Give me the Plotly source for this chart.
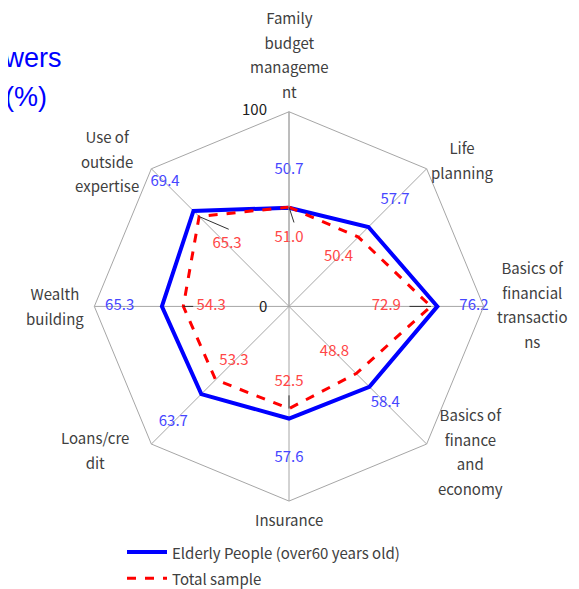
import math
import plotly.graph_objects as go

categories = ["Family budget management", "Life planning", "Basics of financial transactions",
              "Basics of finance and economy", "Insurance", "Loans/credit", "Wealth building",
              "Use of outside expertise"]
tick_lines = [["Family", "budget", "manageme", "nt"], ["Life", "planning"],
              ["Basics of", "financial", "transactio", "ns"], ["Basics of", "finance", "and", "economy"],
              ["Insurance"], ["Loans/cre", "dit"], ["Wealth", "building"], ["Use of", "outside", "expertise"]]
elderly = [50.7, 57.7, 76.2, 58.4, 57.6, 63.7, 65.3, 69.4]
total = [51.0, 50.4, 72.9, 48.8, 52.5, 53.3, 54.3, 65.3]
series_names = ["Elderly People (over60 years old)", "Total sample"]
radial_ticks = [0, 100]

# ---- layout-only placement settings ----
elderly_label_r = [70, 77, 95, 70, 78, 84, 87, 90]
total_label_r = [35, 36, 50, 33, 39, 40, 40, 45]
# leader lines: (category index, label end radius, angle offset in degrees)
leaders = [(0, 43.2, 3.4), (7, 50.3, 7.0), (2, 61.9, 0.0), (6, 49.2, 0.0), (4, 45.7, 0.0)]
# category label box centre offsets from the spoke end (px)
cat_label_shift = [(0, -53), (34, -4), (46, 3), (42, 13), (0, 24), (-55, 11), (-37, 5), (-43, -3)]
radial_label_dy = {0: 4, 100: 2}

FONT = "Noto Sans CJK JP"
OFF = 8  # page body margin
W, H = 579, 589
CX, CY, R = 289, 305, 197  # visual centre / radius in page pixels
PLOT_DY = 5  # plotly draws the polar slightly above its domain centre


def px(x):
    return (x - OFF) / W


def py(y):
    return 1 - (y - OFF) / H


def wrap(lines, base=15):
    return "<br>".join(f'<span style="font-size:{base}px">{s}</span>' for s in lines)


fig = go.Figure()
cats_closed = categories + categories[:1]
fig.add_trace(go.Scatterpolar(r=elderly + elderly[:1], theta=cats_closed, mode="lines",
                              line=dict(color="#0000ff", width=4),
                              name=f'<span style="font-size:15px">{series_names[0]}</span>'))
fig.add_trace(go.Scatterpolar(r=total + total[:1], theta=cats_closed, mode="lines",
                              line=dict(color="#ff0000", width=3, dash="dash"),
                              name=f'<span style="font-size:15px">{series_names[1]}</span>'))
fig.add_trace(go.Scatterpolar(r=elderly_label_r, theta=categories, mode="text",
                              text=[f"{v:.1f}" for v in elderly], textfont=dict(color="#4646ff", size=15, family=FONT),
                              showlegend=False, hoverinfo="skip"))
fig.add_trace(go.Scatterpolar(r=total_label_r, theta=categories, mode="text",
                              text=[f"{v:.1f}" for v in total], textfont=dict(color="#ff4646", size=15, family=FONT),
                              showlegend=False, hoverinfo="skip"))
step = 360 / len(categories)
for idx, r_end, dth in leaders:
    th0 = idx * step
    fig.add_trace(go.Scatterpolar(r=[total[idx], r_end], theta=[th0, th0 + dth], mode="lines",
                                  line=dict(color="#303030", width=1), subplot="polar2",
                                  showlegend=False, hoverinfo="skip"))

pcx, pcy = CX - OFF, CY - OFF + PLOT_DY
domain = dict(x=[(pcx - R) / W, (pcx + R) / W],
              y=[(H - pcy - R) / H, (H - pcy + R) / H])

annotations = []
for i, lines in enumerate(tick_lines):
    ang = math.radians(i * step)
    vx = CX + R * math.sin(ang)
    vy = CY - R * math.cos(ang)
    dx, dy = cat_label_shift[i]
    annotations.append(dict(text=wrap(lines), x=px(vx + dx), y=py(vy + dy), xref="paper", yref="paper",
                            xanchor="center", yanchor="middle", align="center", showarrow=False,
                            font=dict(family=FONT, size=19, color="#404040")))
for t in radial_ticks:
    annotations.append(dict(text=str(t), x=px(CX - 20), y=py(CY - R * t / 100 + radial_label_dy[t]),
                            xref="paper", yref="paper", xanchor="right", yanchor="middle", showarrow=False,
                            font=dict(family=FONT, size=15, color="#202020")))
annotations += [
    dict(text="Correct answers", x=px(64), y=py(59), xref="paper", yref="paper",
         xanchor="right", yanchor="middle", showarrow=False,
         font=dict(family="Liberation Sans", size=27, color="#0000ff")),
    dict(text="(%)", x=px(3), y=py(98), xref="paper", yref="paper",
         xanchor="left", yanchor="middle", showarrow=False,
         font=dict(family="Liberation Sans", size=27, color="#0000ff")),
]

fig.update_layout(
    width=W, height=H,
    margin=dict(l=0, r=0, t=0, b=0),
    paper_bgcolor="white", plot_bgcolor="white",
    font=dict(family=FONT, size=15, color="#404040"),
    polar=dict(
        domain=domain,
        bgcolor="white",
        gridshape="linear",
        angularaxis=dict(direction="clockwise", rotation=90, type="category",
                         categoryarray=categories, showticklabels=False,
                         showline=True, linecolor="#a6a6a6", linewidth=1,
                         gridcolor="#a6a6a6", gridwidth=1, ticks=""),
        radialaxis=dict(range=[0, 100], tickvals=radial_ticks, angle=90, showticklabels=False,
                        showline=True, linecolor="#a6a6a6", linewidth=1,
                        gridcolor="#a6a6a6", ticks=""),
    ),
    polar2=dict(
        domain=domain,
        bgcolor="rgba(0,0,0,0)",
        angularaxis=dict(direction="clockwise", rotation=90, type="linear", thetaunit="degrees",
                         visible=False),
        radialaxis=dict(range=[0, 100], visible=False),
    ),
    legend=dict(x=px(122), y=py(540), xanchor="left", yanchor="top",
                font=dict(size=18, color="#404040"), tracegroupgap=0, itemwidth=40),
    annotations=annotations,
)

fig.write_html("out.html")
